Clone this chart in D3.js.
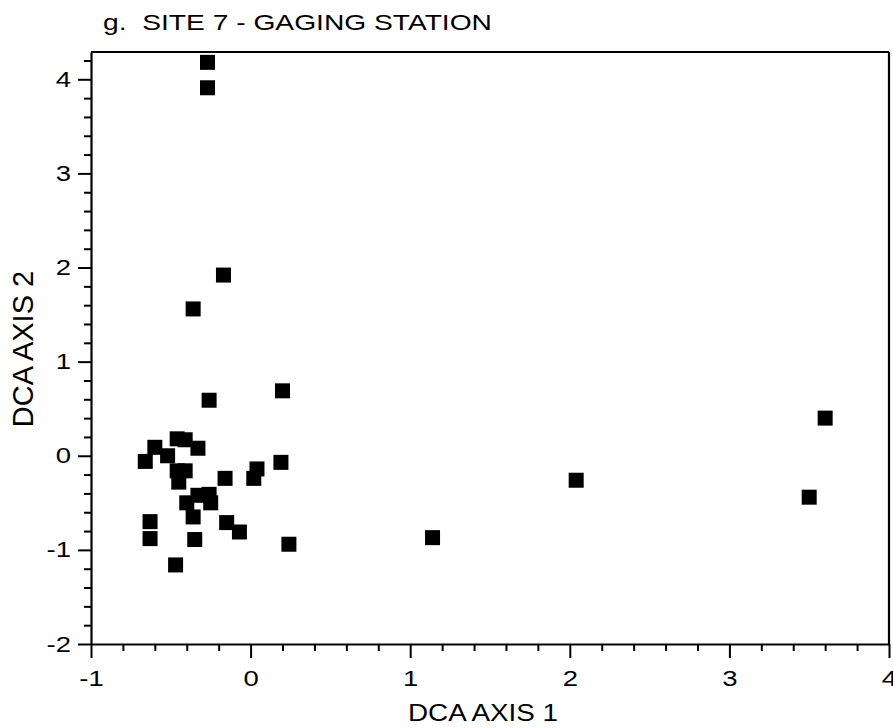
<!DOCTYPE html>
<html>
<head>
<meta charset="utf-8">
<script src="https://cdn.jsdelivr.net/npm/d3@7/dist/d3.min.js"></script>
<style>
  html, body { margin: 0; padding: 0; background: #fff; }
  svg { display: block; }
  text { font-family: "Liberation Sans", Arial, Helvetica, sans-serif; fill: #000; }
</style>
</head>
<body>
<svg id="chart" width="893" height="728"></svg>
<script>
// DCA sample scores, site 7 (gaging station)
const axis1Scores = [
  -0.27, -0.27, -0.17, -0.36, 0.20, -0.26, 3.60, 0.19, 0.04, 0.02,
  -0.16, 2.04, 3.50, 1.14, 0.24, -0.47, -0.35, -0.63, -0.63, -0.15,
  -0.07, -0.36, -0.40, -0.33, -0.26, -0.25, -0.45, -0.46, -0.41, -0.66,
  -0.60, -0.52, -0.46, -0.41, -0.33
];
const axis2Scores = [
  4.18, 3.91, 1.92, 1.56, 0.69, 0.59, 0.40, -0.07, -0.14, -0.24,
  -0.24, -0.26, -0.44, -0.87, -0.94, -1.16, -0.89, -0.70, -0.88, -0.71,
  -0.81, -0.65, -0.50, -0.42, -0.41, -0.50, -0.28, -0.16, -0.16, -0.06,
  0.09, 0.00, 0.18, 0.17, 0.08
];
const xMajorTicks = [-1, 0, 1, 2, 3, 4];
const yMajorTicks = [-2, -1, 0, 1, 2, 3, 4];
const xDomain = [-1, 4];
const yDomain = [-2, 4.29];
const titleText = "g.  SITE 7 - GAGING STATION";
const xTitle = "DCA AXIS 1";
const yTitle = "DCA AXIS 2";

const points = axis1Scores.map((x, i) => ({ x, y: axis2Scores[i] }));

const svg = d3.select("#chart");
const plot = { left: 91, right: 889, top: 52, bottom: 644 };
const stretch = 1.25; // wide lettering of the printed figure

const x = d3.scaleLinear().domain(xDomain).range([plot.left, plot.right]);
const y = d3.scaleLinear().domain(yDomain).range([plot.bottom, plot.top]);

// minor ticks every 0.2
const xMinor = d3.range(-1, 4.001, 0.2).map(v => +v.toFixed(1)).filter(v => !xMajorTicks.includes(v));
const yMinor = d3.range(-2, 4.29, 0.2).map(v => +v.toFixed(1)).filter(v => !yMajorTicks.includes(v));

const fmt = d => String(d);

// frame: top and right edges
svg.append("line").attr("x1", plot.left).attr("x2", plot.right).attr("y1", plot.top).attr("y2", plot.top)
  .attr("stroke", "#000").attr("stroke-width", 2.2);
svg.append("line").attr("x1", plot.right).attr("x2", plot.right).attr("y1", plot.top).attr("y2", plot.bottom)
  .attr("stroke", "#000").attr("stroke-width", 2.2);

// bottom axis
svg.append("g").attr("transform", `translate(0,${plot.bottom})`)
  .call(d3.axisBottom(x).tickValues(xMinor).tickSize(7).tickFormat(""))
  .call(g => g.select(".domain").remove());
svg.append("g").attr("class", "major-x").attr("transform", `translate(0,${plot.bottom})`)
  .call(d3.axisBottom(x).tickValues(xMajorTicks).tickSize(14).tickPadding(12).tickFormat(fmt).tickSizeOuter(0));

// left axis
svg.append("g").attr("transform", `translate(${plot.left},0)`)
  .call(d3.axisLeft(y).tickValues(yMinor).tickSize(7).tickFormat(""))
  .call(g => g.select(".domain").remove());
svg.append("g").attr("class", "major-y").attr("transform", `translate(${plot.left},0)`)
  .call(d3.axisLeft(y).tickValues(yMajorTicks).tickSize(13).tickPadding(3).tickFormat(fmt).tickSizeOuter(0));

svg.selectAll(".domain").attr("stroke", "#000").attr("stroke-width", 2.2);
svg.selectAll(".tick line").attr("stroke", "#000").attr("stroke-width", 2);
svg.selectAll(".tick text")
  .style("font-family", '"Liberation Sans", Arial, sans-serif')
  .style("font-size", "22px").attr("fill", "#000")
  .attr("transform", `scale(${stretch},1)`);

// data squares
const size = 15;
svg.append("g").selectAll("rect").data(points).join("rect")
  .attr("x", d => x(d.x) - size / 2)
  .attr("y", d => y(d.y) - size / 2)
  .attr("width", size).attr("height", size)
  .attr("fill", "#000");

// titles
svg.append("text").attr("x", 103).attr("y", 30)
  .attr("xml:space", "preserve").style("white-space", "pre")
  .attr("textLength", 389).attr("lengthAdjust", "spacingAndGlyphs")
  .style("font-size", "22px").text(titleText);

svg.append("text").attr("x", 408).attr("y", 721)
  .attr("textLength", 150).attr("lengthAdjust", "spacingAndGlyphs")
  .style("font-size", "23px").text(xTitle);

svg.append("text").attr("transform", "translate(33,349) rotate(-90)").attr("text-anchor", "middle")
  .style("font-size", "29px").text(yTitle);
</script>
</body>
</html>
